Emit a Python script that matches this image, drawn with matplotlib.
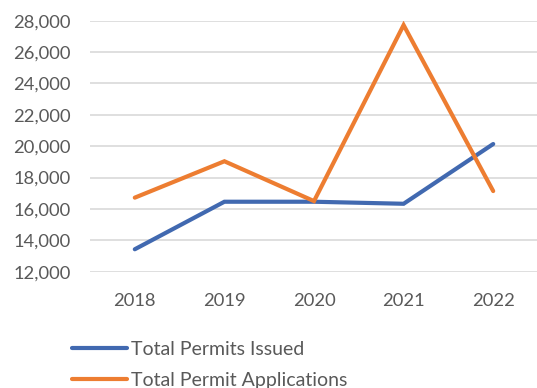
import matplotlib
matplotlib.use("Agg")
import matplotlib.pyplot as plt
from matplotlib.ticker import FuncFormatter

years = ["2018", "2019", "2020", "2021", "2022"]
permits_issued = [13430, 16460, 16460, 16330, 20140]
permit_applications = [16720, 19040, 16500, 27720, 17140]
y_ticks = [12000, 14000, 16000, 18000, 20000, 22000, 24000, 26000, 28000]

plt.rcParams["font.family"] = ["Lato", "DejaVu Sans"]
W, H = 537, 388
fig = plt.figure(figsize=(W / 100, H / 100), dpi=100)
ax = fig.add_axes([90 / W, 1 - 271.7 / H, (538 - 90) / W, (271.7 - 20.7) / H])

blue = "#4169B0"
orange = "#ED7D31"
x = range(len(years))
ax.plot(x, permits_issued, color=blue, lw=3.0, solid_capstyle="round",
        solid_joinstyle="miter", label="Total Permits Issued", zorder=3)
ax.plot(x, permit_applications, color=orange, lw=3.0, solid_capstyle="round",
        solid_joinstyle="miter", label="Total Permit Applications", zorder=3)

ax.set_xlim(-0.5, 4.5)
ax.set_ylim(12000, 28000)
ax.set_yticks(y_ticks)
ax.yaxis.set_major_formatter(FuncFormatter(lambda v, p: f"{int(v):,}"))
ax.set_xticks(list(x))
ax.set_xticklabels(years)
ax.grid(axis="y", color="#D9D9D9", lw=1.2)
ax.set_axisbelow(True)
for s in ax.spines.values():
    s.set_visible(False)
ax.tick_params(length=0, labelsize=13.2, colors="#595959")
ax.tick_params(axis="y", pad=14)
ax.tick_params(axis="x", pad=15)

leg = fig.legend(loc="upper left", bbox_to_anchor=(72 / W, 1 - 341 / H),
                 frameon=False, fontsize=14, handlelength=2.85,
                 handletextpad=0.2, labelspacing=0.72, borderaxespad=0,
                 borderpad=0)
for t in leg.get_texts():
    t.set_color("#595959")
for h in leg.get_lines():
    h.set_linewidth(3.0)

fig.savefig("out.png", dpi=100)
